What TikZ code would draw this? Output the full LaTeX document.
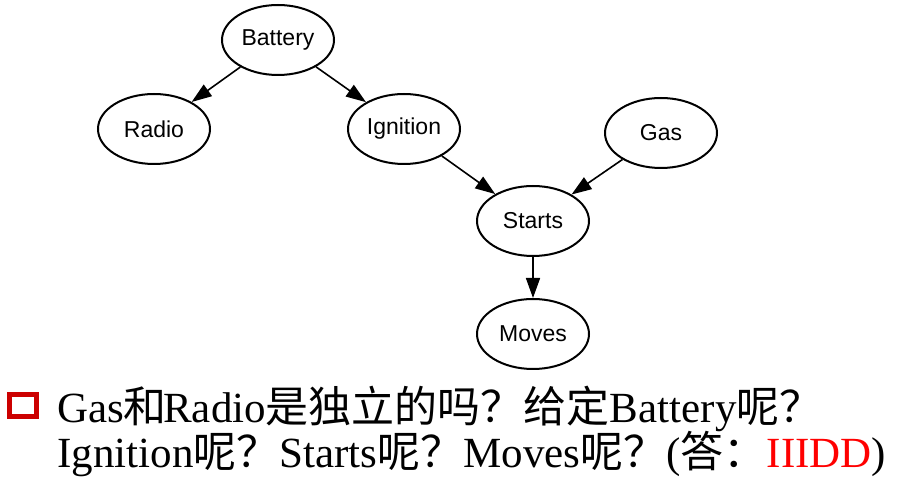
\documentclass[tikz,border=0pt]{standalone}
\usepackage{fontspec}
\setmainfont{Liberation Serif}
\newfontfamily\nodefont{Liberation Sans}
\newfontfamily\cjk{Noto Sans CJK SC}
\usetikzlibrary{shapes.geometric,arrows.meta}
\definecolor{bulletred}{RGB}{204,0,0}

\begin{document}
\begin{tikzpicture}[x=0.5pt, y=-0.5pt,
        var/.style={ellipse, draw, line width=1pt, inner sep=0pt,
            minimum width=56pt, minimum height=35pt,
            font=\nodefont\fontsize{11.5}{13}\selectfont},
        edge/.style={line width=0.8pt, -{Triangle[length=10pt, width=7pt]}},
        line/.style={anchor=base west, inner sep=0pt,
            font=\fontsize{21.5}{22}\selectfont}]
        \useasboundingbox (0, 0) rectangle (900, 491);

        \node [var] (battery) at (278, 40) {Battery};
        \node [var] (radio) at (154, 129) {Radio};
        \node [var] (ignition) at (404, 129) {Ignition};
        \node [var] (gas) at (661, 133) {Gas};
        \node [var] (starts) at (533, 221) {Starts};
        \node [var] (moves) at (533, 334) {Moves};

        \draw [edge] (battery) -- (radio);
        \draw [edge] (battery) -- (ignition);
        \draw [edge] (ignition) -- (starts);
        \draw [edge] (gas) -- (starts);
        \draw [edge] (starts) -- (moves);

        % question below the graph
        \draw [bulletred, line width=2.5pt] (9.5, 394.5) rectangle (36.5, 416.5);
        \node [line] (first) at (57, 423)
            {Gas\kern-0.5pt{\cjk 和}\kern-1.5pt Radio{\cjk 是独立的吗？给定}Battery{\cjk 呢？}};
        \node [line] (second) at (57, 468)
            {Ignition{\cjk 呢？}Starts{\cjk 呢？}Moves{\cjk 呢？}({\cjk 答：}\textcolor{red}{IIIDD})};
    \end{tikzpicture}
\end{document}
